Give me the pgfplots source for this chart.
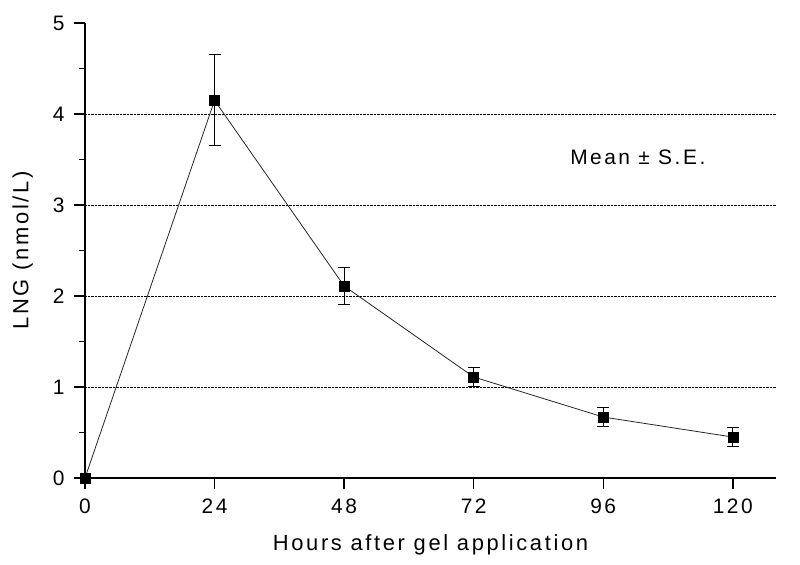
\documentclass[border=0pt]{standalone}
\usepackage{fontspec}
\setmainfont[LetterSpace=12]{Liberation Sans}
\usepackage{pgfplots}
\pgfplotsset{compat=1.18}
\usetikzlibrary{calc}
\begin{document}
\begin{tikzpicture}
\begin{axis}[
  scale only axis,
  width=691bp, height=455bp,
  xmin=0, xmax=128, ymin=0, ymax=5,
  axis lines*=left,
  axis line style={line width=1.8bp},
  xtick={0,24,48,72,96,120},
  xticklabels={0,24,48,72,96,120},
  ytick={0,1,2,3,4,5},
  yticklabels={0,1,2,3,4,5},
  minor ytick={0.5,1.5,2.5,3.5,4.5},
  tick align=outside,
  major tick length=11bp,
  minor tick length=6bp,
  tick style={line width=1.5bp, black},
  extra y ticks={1,2,3,4},
  extra y tick labels={},
  extra y tick style={ymajorgrids=true, major tick length=0pt},
  grid style={densely dotted, line width=0.9bp, black},
  xticklabel style={font=\fontsize{21}{25}\selectfont, yshift=-6bp},
  yticklabel style={font=\fontsize{21}{25}\selectfont, xshift=-6bp},
  label style={font=\fontsize{22}{26}\selectfont},
  xlabel={Hours after gel application},
  ylabel={LNG (nmol/L)},
  xlabel style={yshift=-14bp},
  ylabel style={yshift=2bp},
  clip=false,
]
\addplot[black!85, line width=0.8bp, mark=square*, mark size=5bp,
  mark options={fill=black, draw=black, line width=0.5bp},
  error bars/.cd, y dir=both, y explicit,
  error bar style={line width=1bp, black},
  error mark options={rotate=90, mark size=6bp, line width=1bp}]
  table[x=x, y=y, y error=e] {
  x   y     e
  0   0     0
  24  4.15  0.50
  48  2.11  0.20
  72  1.11  0.10
  96  0.67  0.10
  120 0.45  0.10
  };
\node[font=\fontsize{21}{25}\selectfont] at (axis cs:102.4,3.52) {Mean ± S.E.};
\end{axis}
\path ($(current axis.south west)+(-85bp,-87bp)$) rectangle ($(current axis.north east)+(24bp,23bp)$);
\end{tikzpicture}
\end{document}
